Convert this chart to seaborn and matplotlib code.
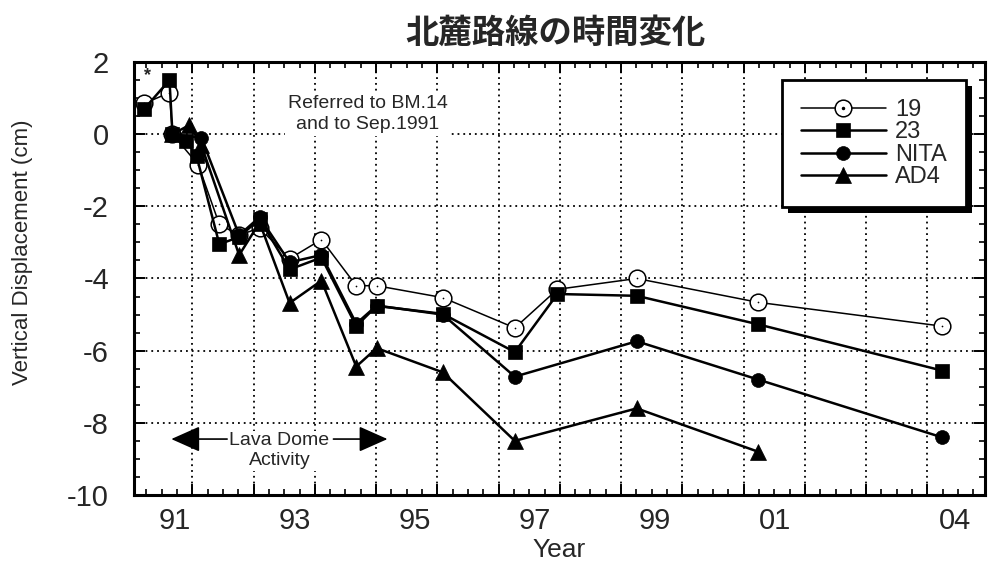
import numpy as np
import matplotlib
matplotlib.use("Agg")
import matplotlib.pyplot as plt
import seaborn as sns
from matplotlib.lines import Line2D
from matplotlib.patches import Rectangle
from matplotlib.ticker import FixedLocator


# survey epochs (decimal year) and displacement (cm) for each benchmark
year_19 = [1990.50, 1990.92, 1990.97, 1991.40, 1991.75, 1992.08, 1992.42,
           1992.92, 1993.45, 1994.03, 1994.37, 1995.47, 1996.67, 1997.38,
           1998.70, 2000.72, 2003.78]
disp_19 = [0.85, 1.15, 0.0, -0.85, -2.5, -2.8, -2.6,
           -3.45, -2.92, -4.2, -4.2, -4.53, -5.37, -4.3,
           -4.0, -4.66, -5.32]

year_23 = [1990.50, 1990.92, 1990.97, 1991.20, 1991.37, 1991.75, 1992.08,
           1992.42, 1992.92, 1993.45, 1994.03, 1994.37, 1995.47, 1996.67,
           1997.38, 1998.70, 2000.72, 2003.78]
disp_23 = [0.7, 1.5, 0.0, -0.2, -0.6, -3.05, -2.85,
           -2.35, -3.75, -3.42, -5.32, -4.76, -4.98, -6.04,
           -4.43, -4.48, -5.27, -6.55]

year_nita = [1990.97, 1991.45, 1992.08, 1992.42, 1992.92, 1993.45, 1994.03,
             1994.37, 1995.47, 1996.67, 1998.70, 2000.72, 2003.78]
disp_nita = [0.0, -0.1, -2.8, -2.3, -3.55, -3.35, -5.25,
             -4.75, -5.0, -6.72, -5.74, -6.8, -8.4]

year_ad4 = [1990.97, 1991.25, 1991.45, 1992.08, 1992.42, 1992.92, 1993.45,
            1994.03, 1994.37, 1995.47, 1996.67, 1998.70, 2000.72]
disp_ad4 = [0.0, 0.25, -0.3, -3.35, -2.45, -4.68, -4.06,
            -6.44, -5.93, -6.6, -8.5, -7.6, -8.8]

year_ticks = [1991, 1993, 1995, 1997, 1999, 2001, 2004]
year_labels = ["91", "93", "95", "97", "99", "01", "04"]
disp_ticks = [-10, -8, -6, -4, -2, 0, 2]


sns.set_style("white")
plt.rcParams["font.family"] = ["Liberation Sans", "Noto Sans CJK JP"]
plt.rcParams["axes.unicode_minus"] = False

fig = plt.figure(figsize=(9.9, 5.63), dpi=100)
ax = fig.add_axes([0.1354, 0.1208, 0.8596, 0.7691])

# series
sns.lineplot(x=year_19, y=disp_19, ax=ax, sort=False, label="19",
             color="black", lw=1.1, marker="o", markersize=12,
             markerfacecolor="white", markeredgecolor="black",
             markeredgewidth=1.1, zorder=3)
sns.scatterplot(x=year_19, y=disp_19, ax=ax, color="black", marker=".",
                s=6, linewidth=0, legend=False, zorder=3.1)
sns.lineplot(x=year_23, y=disp_23, ax=ax, sort=False, label="23",
             color="black", lw=1.8, marker="s", markersize=10,
             markeredgecolor="black", markeredgewidth=0.5, zorder=4)
sns.lineplot(x=year_nita, y=disp_nita, ax=ax, sort=False, label="NITA",
             color="black", lw=1.8, marker="o", markersize=10,
             markeredgecolor="black", markeredgewidth=0.5, zorder=5)
sns.lineplot(x=year_ad4, y=disp_ad4, ax=ax, sort=False, label="AD4",
             color="black", lw=1.8, marker="^", markersize=11,
             markeredgecolor="black", markeredgewidth=0.5, zorder=6)

# axes limits, ticks, grid
ax.set_xlim(1990.33, 2004.5)
ax.set_ylim(-10, 2)

grid_x = np.arange(1991.30, 2004.0, 1.02)
minor_x = np.arange(1990.535, 2004.5, 0.255)
ax.xaxis.set_major_locator(FixedLocator(grid_x))
ax.xaxis.set_minor_locator(FixedLocator(minor_x))
ax.set_yticks(disp_ticks)
ax.yaxis.set_minor_locator(FixedLocator(np.arange(-10, 2.01, 0.5)))

ax.tick_params(axis="both", which="both", direction="in",
               top=True, right=True, bottom=True, left=True, color="black")
ax.tick_params(which="major", length=8, width=1.4)
ax.tick_params(which="minor", length=4, width=1.2)
ax.tick_params(axis="x", labelbottom=False)
ax.tick_params(axis="y", labelsize=21, pad=18)

ax.grid(True, which="major", color="black", linestyle=(0, (1, 2.2)),
        linewidth=1.3)
ax.set_axisbelow(True)

for s in ax.spines.values():
    s.set_color("black")
    s.set_linewidth(2.2)

# year labels sit apart from the grid ticks
sec = ax.secondary_xaxis("bottom")
sec.set_xticks(year_ticks, labels=year_labels)
sec.tick_params(length=0, pad=9, labelsize=21)
sec.spines["bottom"].set_visible(False)
sec.set_xlabel("Year", fontsize=19, labelpad=2)

ax.set_ylabel("Vertical Displacement (cm)", fontsize=16)
ax.yaxis.set_label_coords(-0.119, 0.56)

# title
fig.text(0.561, 1 - 33 / 563, "北麓路線の時間変化", ha="center",
         va="center", fontsize=24, fontweight="bold",
         family=["Noto Sans CJK JP"])

# annotations
ax.text(1994.22, 0.56, "Referred to BM.14\nand to Sep.1991",
        ha="center", va="center", fontsize=14, linespacing=1.3,
        bbox=dict(fc="white", ec="none", pad=2), zorder=7)
ax.text(1990.55, 1.62, "*", ha="center", va="center", fontsize=13,
        fontweight="bold")

ax.text(1992.75, -8.77, "Lava Dome\nActivity", ha="center", va="center",
        fontsize=14, linespacing=1.25,
        bbox=dict(fc="white", ec="none", pad=1), zorder=7)
arrow = dict(arrowstyle="-|>,head_length=0.9,head_width=0.4",
             color="black", lw=1.2, shrinkA=0, shrinkB=0,
             mutation_scale=20)
ax.annotate("", xy=(1990.95, -8.45), xytext=(1991.88, -8.45),
            arrowprops=arrow, zorder=8)
ax.annotate("", xy=(1994.55, -8.45), xytext=(1993.65, -8.45),
            arrowprops=arrow, zorder=8)

# legend
handles, labels = ax.get_legend_handles_labels()
dot = Line2D([], [], ls="none", marker=".", color="black", markersize=3)
handles[0] = (handles[0], dot)
leg = ax.legend(handles, labels, loc="upper left",
                bbox_to_anchor=(782 / 990, 1 - 80 / 563),
                bbox_transform=fig.transFigure, frameon=True,
                fancybox=False, edgecolor="black", framealpha=1,
                fontsize=17, handlelength=3.6, handletextpad=0.4,
                labelspacing=0.02, borderpad=0.8, borderaxespad=0)
leg.get_frame().set_linewidth(2)
leg.set_zorder(10)

# heavy drop shadow behind the legend box
fig.canvas.draw()
bb = leg.get_window_extent()
inv = ax.transAxes.inverted()
x0, y0 = inv.transform((bb.x0 + 6, bb.y0 - 6))
x1, y1 = inv.transform((bb.x1 + 6, bb.y1 - 6))
ax.add_patch(Rectangle((x0, y0), x1 - x0, y1 - y0, transform=ax.transAxes,
                       facecolor="black", edgecolor="none", zorder=9,
                       clip_on=False))

fig.savefig("out.png", dpi=100)
